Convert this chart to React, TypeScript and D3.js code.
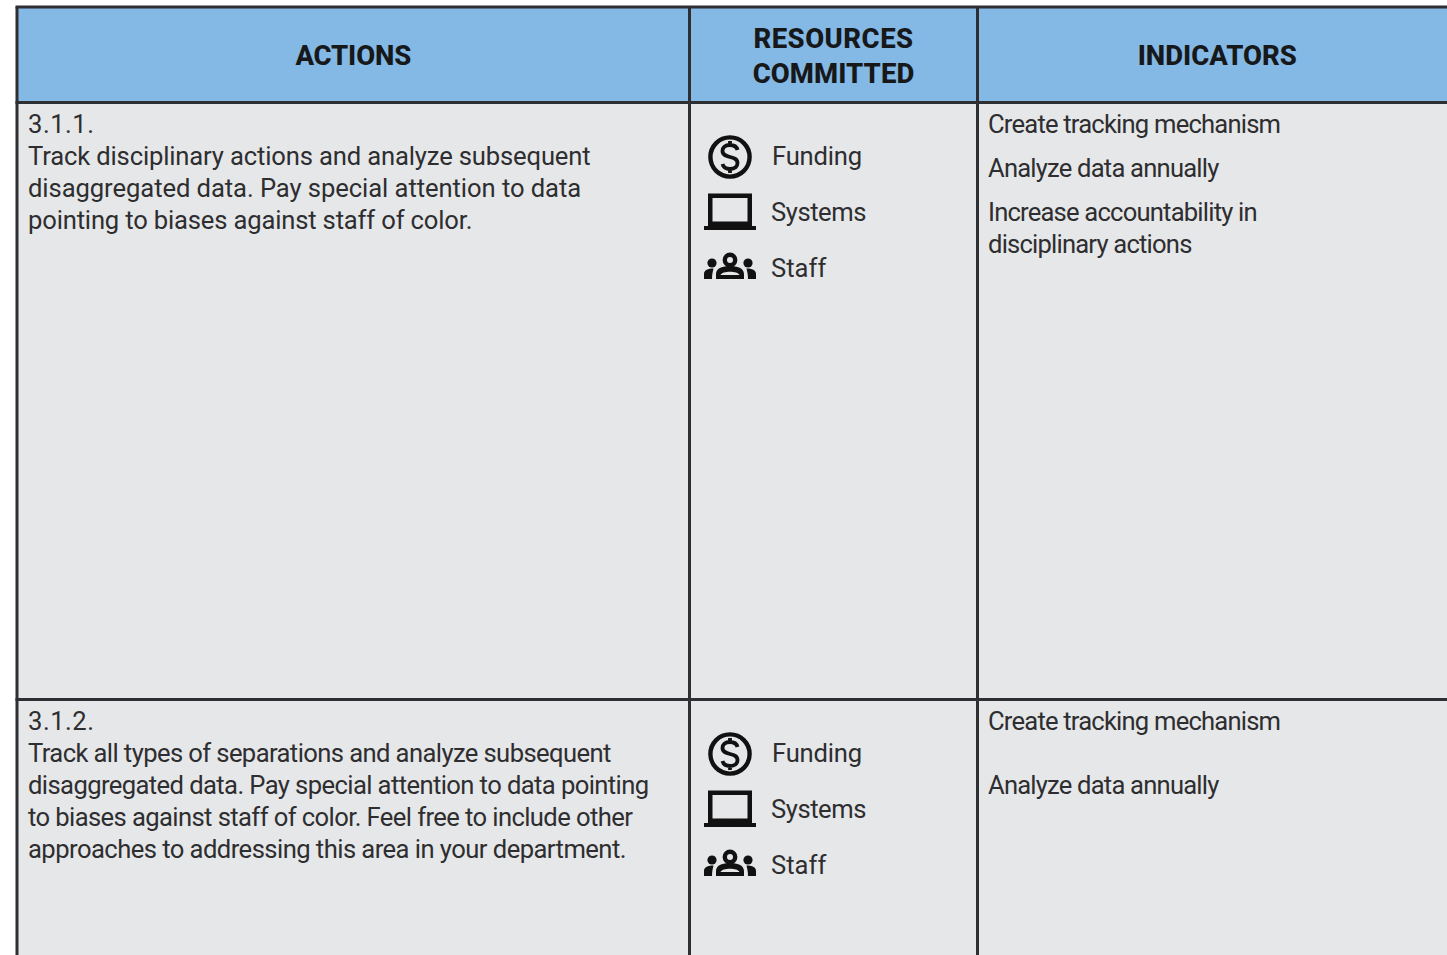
import * as d3 from "d3";
import { useEffect, useRef } from "react";

const columns = ["ACTIONS", "RESOURCES COMMITTED", "INDICATORS"];
const headerLines = [["ACTIONS"], ["RESOURCES", "COMMITTED"], ["INDICATORS"]];
const actionIds = ["3.1.1.", "3.1.2."];
const actionText = [
  [
    "Track disciplinary actions and analyze subsequent",
    "disaggregated data. Pay special attention to data",
    "pointing to biases against staff of color.",
  ],
  [
    "Track all types of separations and analyze subsequent",
    "disaggregated data. Pay special attention to data pointing",
    "to biases against staff of color. Feel free to include other",
    "approaches to addressing this area in your department.",
  ],
];
const resources = ["Funding", "Systems", "Staff"];
// baseline of each indicator line, relative to the row top
const indicators = [
  [
    { text: "Create tracking mechanism", dy: 29.5 },
    { text: "Analyze data annually", dy: 73.5 },
    { text: "Increase accountability in", dy: 117.5 },
    { text: "disciplinary actions", dy: 149.5 },
  ],
  [
    { text: "Create tracking mechanism", dy: 29.5 },
    { text: "Analyze data annually", dy: 93.5 },
  ],
];

const WIDTH = 1447;
const HEIGHT = 955;
const FONT = "Roboto, sans-serif";
const INK = "#2e2e30";
const LINE = "#2d2f33";

const iconFns: Record<string, (g: any) => void> = {
  Funding(g) {
    g.append("circle").attr("cx", 0).attr("cy", 1).attr("r", 19.6).attr("fill", "none").attr("stroke", "#111").attr("stroke-width", 4.4);
    g.append("path")
      .attr("d", "M7.5,-6 C6.5,-10 4,-11 0,-11 C-5,-11 -7.5,-8.5 -7.5,-5 C-7.5,-1 -4,0 0,1 C4,2 7.5,3 7.5,7 C7.5,10.5 5,13 0,13 C-4,13 -6.5,12 -7.5,8 M0,-15 V-11 M0,13 V17")
      .attr("fill", "none")
      .attr("stroke", "#111")
      .attr("stroke-width", 3.8);
  },
  Systems(g) {
    g.append("path")
      .attr("fill", "#111")
      .attr("fill-rule", "evenodd")
      .attr("d", "M-22,-18.5 H22 V14 H-22 Z M-17.5,-14 V9.5 H17.5 V-14 Z");
    g.append("path")
      .attr("fill", "#111")
      .attr("d", "M-26,14 H-4.5 V12.5 H4.5 V14 H26 V18 H-26 Z");
  },
  Staff(g) {
    g.append("circle").attr("cx", 0).attr("cy", -8).attr("r", 5.2).attr("fill", "none").attr("stroke", "#111").attr("stroke-width", 4.4);
    g.append("circle").attr("cx", -18).attr("cy", -5).attr("r", 4.6).attr("fill", "#111");
    g.append("circle").attr("cx", 18).attr("cy", -5).attr("r", 4.6).attr("fill", "#111");
    g.append("path").attr("fill", "#111").attr("fill-rule", "evenodd").attr("d", "M-14,11 V6 C-14,0 -7,-2 0,-2 C7,-2 14,0 14,6 V11 Z M-9.5,7 H9.5 C8,2.5 -8,2.5 -9.5,7 Z");
    g.append("path").attr("fill", "#111").attr("d", "M-26,11 V6 C-26,2 -22,0.5 -16.5,0.5 C-17,3 -18,6 -18,11 Z");
    g.append("path").attr("fill", "#111").attr("d", "M26,11 V6 C26,2 22,0.5 16.5,0.5 C17,3 18,6 18,11 Z");
  },
};

export default function App() {
  const svgRef = useRef<SVGSVGElement | null>(null);

  useEffect(() => {
    if (!svgRef.current) return;
    const svg = d3.select(svgRef.current);
    svg.selectAll("*").remove();

    // column edges and row edges, the last ones run off the page
    const colX = d3.scaleOrdinal<number, number>().domain([0, 1, 2, 3]).range([17, 689.5, 977.5, WIDTH + 20]);
    const rowY = d3.scaleOrdinal<number, number>().domain([0, 1, 2, 3]).range([7, 102.5, 699.5, HEIGHT + 300]);
    const textSize = 25.6;

    svg.append("rect").attr("x", colX(0)).attr("y", rowY(0)).attr("width", WIDTH).attr("height", rowY(1) - rowY(0)).attr("fill", "#84b8e5");
    svg.append("rect").attr("x", colX(0)).attr("y", rowY(1)).attr("width", WIDTH).attr("height", HEIGHT).attr("fill", "#e6e7e9");

    const text = (x: number, y: number, s: string, spacing = 0, weight = 400, size = textSize, anchor = "start", color = INK) =>
      svg
        .append("text")
        .attr("x", x)
        .attr("y", y)
        .attr("font-family", FONT)
        .attr("font-size", size)
        .attr("font-weight", weight)
        .attr("letter-spacing", spacing)
        .attr("text-anchor", anchor)
        .attr("fill", color)
        .text(s);

    const headerSpacing = [-0.15, 0.5, 0];
    columns.forEach((_, i) => {
      const cx = (colX(i) + Math.min(colX(i + 1), 1457)) / 2;
      const lines = headerLines[i];
      lines.forEach((l, j) => {
        const y = 64.5 + (j - (lines.length - 1) / 2) * 35 + (lines.length > 1 ? 0.7 : 0);
        const extra = l === "COMMITTED" ? -0.4 : 0;
        text(cx, y, l, headerSpacing[i] + extra, 800, 27.5, "middle", "#17181a");
      });
    });

    const actionSpacing = [[-0.15, -0.07, -0.17], [-0.6, -0.6, -0.6, -0.55]];
    const resourceSpacing = [-0.2, -0.45, 0];
    actionIds.forEach((id, r) => {
      const top = rowY(r + 1);
      text(28, top + 30, id, 0.5);
      actionText[r].forEach((l, j) => text(28, top + 62 + j * 32, l, actionSpacing[r][j]));

      resources.forEach((name, j) => {
        const y = top + 62 + j * 56;
        text(name === "Funding" ? 772 : 771, y, name, resourceSpacing[j]);
        const g = svg.append("g").attr("transform", `translate(730,${y - 8.5})`);
        iconFns[name](g);
      });

      indicators[r].forEach((d) => text(988, top + d.dy + 0.5, d.text, -0.8));
    });

    const stroke = (x1: number, y1: number, x2: number, y2: number) =>
      svg.append("line").attr("x1", x1).attr("y1", y1).attr("x2", x2).attr("y2", y2).attr("stroke", LINE).attr("stroke-width", 3);

    [0, 1, 2].forEach((r) => stroke(colX(0) - 1.5, rowY(r), WIDTH, rowY(r)));
    [0, 1, 2].forEach((c) => stroke(colX(c), rowY(0), colX(c), HEIGHT));
  }, []);

  return (
    <svg
      ref={svgRef}
      width={WIDTH}
      height={HEIGHT}
      viewBox={`0 0 ${WIDTH} ${HEIGHT}`}
      style={{ position: "absolute", left: 0, top: 0, background: "#fff" }}
    />
  );
}
